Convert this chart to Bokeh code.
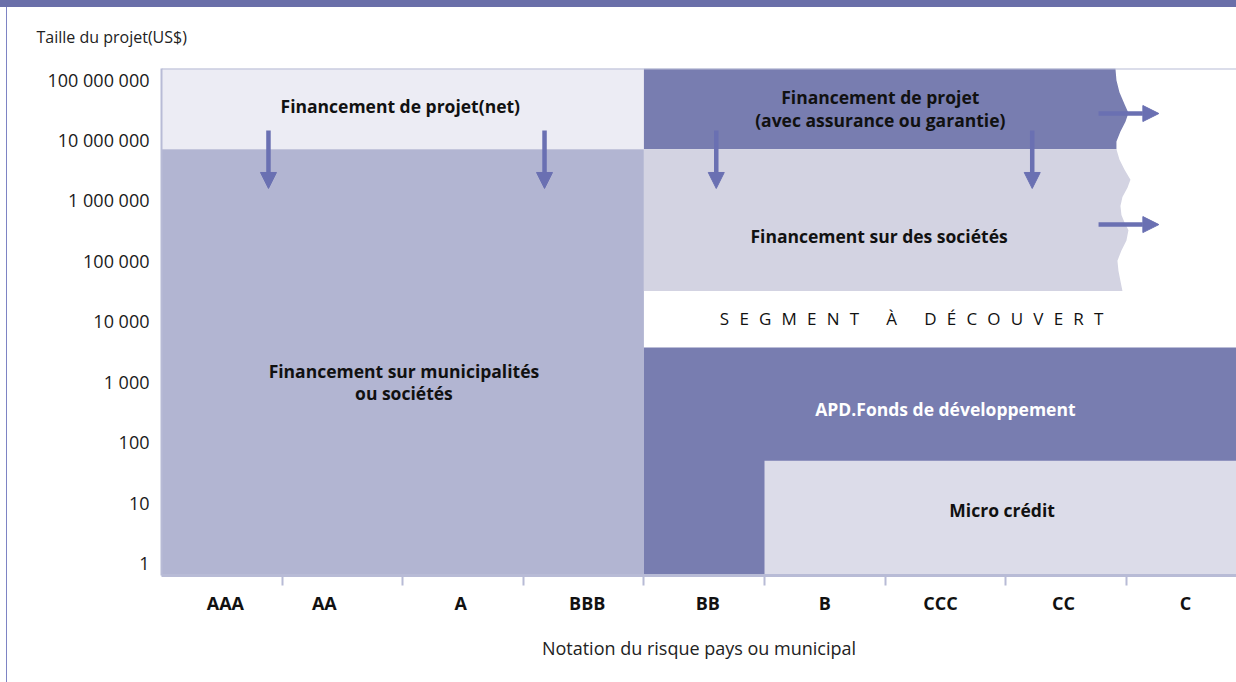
import numpy as np
from bokeh.plotting import figure
from bokeh.models import (Range1d, FixedTicker, CustomJSTickFormatter, Arrow,
                          NormalHead, Span, ColumnDataSource)
from bokeh.core.properties import value
from bokeh.embed import file_html
from bokeh.resources import INLINE

# ---------------- data ----------------
categories = ["AAA", "AA", "A", "BBB", "BB", "B", "CCC", "CC", "C"]
category_label_pos = [0.53, 1.35, 2.48, 3.53, 4.53, 5.5, 6.46, 7.48, 8.49]
category_bounds = [1, 2, 3, 4, 5, 6, 7, 8]
y_ticks = [1, 10, 100, 1000, 1e4, 1e5, 1e6, 1e7, 1e8]

# rectangular segments (x in rating units, y in US$)
rect_names = ["Financement de projet(net)",
              "Financement sur municipalités ou sociétés",
              "APD.Fonds de développement",
              "Micro crédit"]
rect_x0 = [0, 0, 4, 5]
rect_x1 = [4, 4, 9, 9]
rect_y0 = [7e6, 0.5, 0.5, 0.5]
rect_y1 = [2e8, 7e6, 3700, 50]

# segments with an open (torn) right edge
open_names = ["Financement de projet (avec assurance ou garantie)",
              "Financement sur des sociétés"]
open_x0 = [4, 4]
open_x1 = [7.91, 7.91]
open_y0 = [7e6, 3.2e4]
open_y1 = [1.52e8, 7e6]

# torn edge profile (fraction of height, offset in pixels)
tear_t = [[0, .146, .293, .439, .549, .659, .78, .902, 1],
          [0, .071, .143, .214, .271, .336, .4, .464, .514, .571, .643, .714, .786, .857, .929, 1]]
tear_px = [[0, 1, 4, 9, 13, 10, 5, 1, 1],
           [1, 4, 9, 15, 12, 7, 5, 6, 9, 13, 11, 6, 2, 3, 5, 7]]

# text labels
label_text = ["Financement de projet(net)",
              "Financement de projet\n(avec assurance ou garantie)",
              "Financement sur des sociétés",
              "Financement sur municipalités\nou sociétés",
              "APD.Fonds de développement",
              "Micro crédit"]
label_x = [1.98, 5.96, 5.95, 2.01, 6.50, 6.97]
label_y = [3.6e7, 3.3e7, 2.6e5, 1.0e3, 363, 7.8]
label_color = ["#111111", "#111111", "#111111", "#111111", "#ffffff", "#111111"]

gap_text = "SEGMENT À DÉCOUVERT"
gap_x = 6.22
gap_y = 1.1e4

# arrows
down_x = [0.887, 3.176, 4.60, 7.22]
down_y_start = 1.44e7
down_y_end = 1.58e6
right_y = [2.74e7, 4.0e5]
right_x_start = 7.77
right_x_end = 8.27

# ---------------- styles ----------------
rect_colors = ["#ececf4", "#b2b5d2", "#787db0", "#dcdce9"]
open_colors = ["#787db0", "#d3d3e2"]
arrow_color = "#6a70b2"
axis_color = "#b8bbd6"
FONT = "Open Sans"
PX_PER_UNIT = 120.6
W, H = 1236, 682
LEFT, TOP, BOTTOM = 161, 68, 107

# letter-spaced caption
letter_sep = "\u2002\u200a"
word_sep = letter_sep + "\u2003"
spaced_gap_text = word_sep.join(letter_sep.join(w) for w in gap_text.split(" "))

p = figure(width=W, height=H, output_backend="svg", toolbar_location=None,
           y_axis_type="log",
           x_range=Range1d(0, (W - LEFT) / PX_PER_UNIT),
           y_range=Range1d(0.633, 1.52e8),
           min_border_left=LEFT, min_border_right=0,
           min_border_top=TOP, min_border_bottom=BOTTOM,
           background_fill_color="white", border_fill_color=None,
           outline_line_color=None)

# page decoration (top band, left rule) painted behind the transparent border
p.styles = {
    "background": ("linear-gradient(#6a6fa9, #6a6fa9) 0 0 / 100% 7px no-repeat, "
                   "linear-gradient(#7e84c4, #7e84c4) 6px 0 / 1px 100% no-repeat, "
                   "#ffffff"),
}

# rectangles
p.quad(left=rect_x0, right=rect_x1, bottom=rect_y0, top=rect_y1,
       fill_color=rect_colors, line_color=None)

# torn-edge patches
xs, ys = [], []
for x0, x1, y0, y1, tt, dd in zip(open_x0, open_x1, open_y0, open_y1, tear_t, tear_px):
    ly0, ly1 = np.log10(y0), np.log10(y1)
    px = [x0] + [x1 + d / PX_PER_UNIT for d in dd] + [x0]
    py = [y1] + [10 ** (ly1 - t * (ly1 - ly0)) for t in tt] + [y0]
    xs.append(px)
    ys.append(py)
p.patches(xs=xs, ys=ys, fill_color=open_colors, line_color=None)

# top border
p.add_layout(Span(location=1.52e8, dimension="width", line_color=axis_color, line_width=2))

# labels
src = ColumnDataSource(dict(x=label_x, y=label_y, text=label_text, color=label_color))
p.text(x="x", y="y", text="text", source=src, text_color="color",
       text_font=value(FONT), text_font_style="bold", text_font_size="17.5px",
       text_align="center", text_baseline="middle", text_line_height=0.94)
p.text(x=[gap_x], y=[gap_y], text=[spaced_gap_text], text_color="#111111",
       text_font=value(FONT), text_font_size="17px",
       text_align="center", text_baseline="middle")

# arrows
for x in down_x:
    p.add_layout(Arrow(x_start=x, y_start=down_y_start, x_end=x, y_end=down_y_end,
                       line_color=arrow_color, line_width=4.5,
                       end=NormalHead(size=16, fill_color=arrow_color, line_color=arrow_color, line_width=1)))
for y in right_y:
    p.add_layout(Arrow(x_start=right_x_start, y_start=y, x_end=right_x_end, y_end=y,
                       line_color=arrow_color, line_width=4.5,
                       end=NormalHead(size=16, fill_color=arrow_color, line_color=arrow_color, line_width=1)))

# axes
p.xgrid.visible = False
p.ygrid.visible = False

xa = p.xaxis[0]
xa.ticker = FixedTicker(ticks=category_label_pos, minor_ticks=category_bounds)
xa.major_label_overrides = {pos: c for pos, c in zip(category_label_pos, categories)}
xa.major_tick_out = 0
xa.major_tick_in = 0
xa.minor_tick_out = 10
xa.minor_tick_in = 0
xa.minor_tick_line_color = axis_color
xa.minor_tick_line_width = 2
xa.axis_line_color = axis_color
xa.axis_line_width = 3
xa.major_label_standoff = 5
xa.major_label_text_font = FONT
xa.major_label_text_font_style = "bold"
xa.major_label_text_font_size = "18px"
xa.major_label_text_color = "#111111"
xa.axis_label = "Notation du risque pays ou municipal"
xa.axis_label_text_font = FONT
xa.axis_label_text_font_style = "normal"
xa.axis_label_text_font_size = "18px"
xa.axis_label_text_color = "#222222"
xa.axis_label_standoff = 18

ya = p.yaxis[0]
ya.ticker = FixedTicker(ticks=y_ticks)
ya.formatter = CustomJSTickFormatter(
    code="return Math.round(tick).toString().replace(/\\B(?=(\\d{3})+(?!\\d))/g, ' ');")
ya.major_tick_out = 0
ya.major_tick_in = 0
ya.minor_tick_out = 0
ya.minor_tick_in = 0
ya.axis_line_color = axis_color
ya.axis_line_width = 2
ya.major_label_standoff = 12
ya.major_label_text_font = FONT
ya.major_label_text_font_size = "18px"
ya.major_label_text_color = "#1a1a1a"

p.title.text = "Taille du projet(US$)"
p.title.align = "left"
p.title.offset = -125
p.title.text_font = FONT
p.title.text_font_style = "normal"
p.title.text_font_size = "16px"
p.title.text_color = "#222222"
p.title.standoff = 42

open("out.html", "w").write(file_html(p, INLINE))
